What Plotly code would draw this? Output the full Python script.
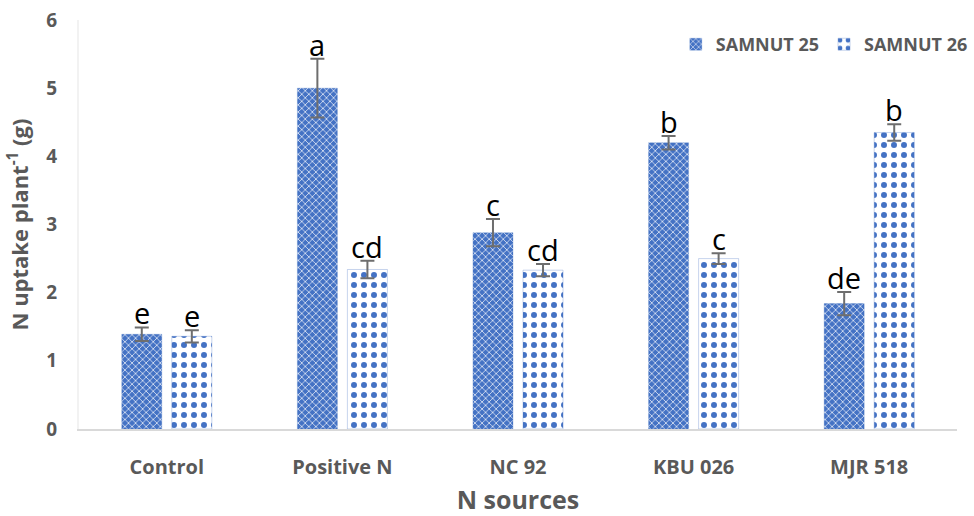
import plotly.graph_objects as go

# N uptake per plant by nitrogen source for two groundnut varieties
sources = ["Control", "Positive N", "NC 92", "KBU 026", "MJR 518"]
samnut25 = [1.39, 5.00, 2.88, 4.20, 1.84]
samnut25_err = [0.10, 0.43, 0.20, 0.10, 0.17]
samnut25_letters = ["e", "a", "c", "b", "de"]
samnut26 = [1.36, 2.34, 2.33, 2.50, 4.35]
samnut26_err = [0.09, 0.13, 0.09, 0.08, 0.12]
samnut26_letters = ["e", "cd", "cd", "c", "b"]

BLUE = "#4472C4"
GREY = "#595959"
FONT = "Open Sans, sans-serif"

fig = go.Figure()
fig.add_trace(go.Bar(
    name="SAMNUT 25", x=sources, y=samnut25,
    error_y=dict(type="data", array=samnut25_err, color="#6E6E6E", thickness=2, width=7),
    marker=dict(
        color=BLUE,
        line=dict(color="rgba(68,114,196,0.25)", width=1),
        pattern=dict(shape="x", fillmode="replace", bgcolor=BLUE, fgcolor="#DCE4F4",
                     size=5, solidity=0.3),
    ),
))
fig.add_trace(go.Bar(
    name="SAMNUT 26", x=sources, y=samnut26,
    error_y=dict(type="data", array=samnut26_err, color="#6E6E6E", thickness=2, width=7),
    marker=dict(
        color="white",
        line=dict(color="rgba(68,114,196,0.3)", width=1),
        pattern=dict(shape=".", fillmode="replace", bgcolor="white", fgcolor=BLUE,
                     size=10, solidity=0.28),
    ),
))

# significance letters above each error bar
for vals, errs, letters, shift in [(samnut25, samnut25_err, samnut25_letters, -25),
                                    (samnut26, samnut26_err, samnut26_letters, 25)]:
    for s, v, e, t in zip(sources, vals, errs, letters):
        fig.add_annotation(x=s, y=v + e, text=t, showarrow=False, xshift=shift,
                           yanchor="bottom", yshift=-7,
                           font=dict(family=FONT, size=29, color="black"))

fig.update_layout(
    width=974, height=516,
    margin=dict(l=79, r=17, t=20, b=87, autoexpand=False),
    paper_bgcolor="white", plot_bgcolor="white",
    barmode="group", bargap=0.43, bargroupgap=0.2,
    font=dict(family=FONT, color=GREY),
    legend=dict(orientation="h", x=1.018, xanchor="right", y=0.94, yanchor="middle",
                font=dict(family=FONT, size=18, color=GREY, weight="bold"),
                itemwidth=30, traceorder="normal"),
    xaxis=dict(
        title=dict(text="N sources", font=dict(size=25, color=GREY, weight="bold"), standoff=18),
        tickfont=dict(size=20, color=GREY, weight="bold"),
        ticklabelstandoff=19, automargin=True,
        showline=True, linecolor="#D9D9D9", linewidth=2, ticks="",
        showgrid=False,
    ),
    yaxis=dict(
        title=dict(text="N uptake plant<sup>-1</sup> (g)",
                   font=dict(size=22, color=GREY, weight="bold"), standoff=12),
        tickfont=dict(size=19, color=GREY, weight="bold"),
        ticklabelstandoff=16, automargin=False,
        range=[0, 6], dtick=1, showgrid=False, zeroline=False,
        showline=True, linecolor="#F2F2F2", linewidth=2, ticks="",
    ),
)

fig.write_html("out.html")
